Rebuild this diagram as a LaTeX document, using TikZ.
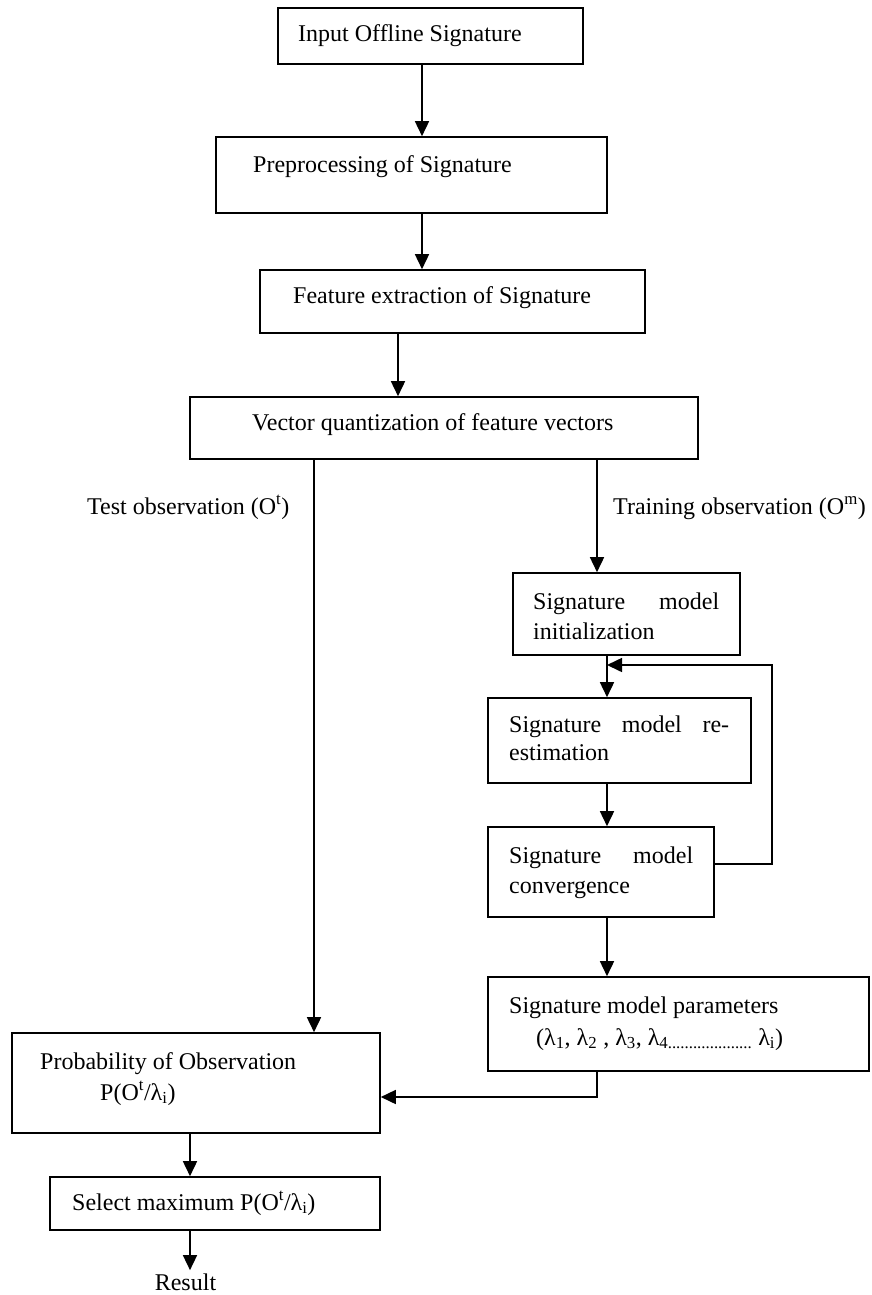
\documentclass[tikz,border=0pt]{standalone}
\usepackage{fontspec}
\setmainfont{Liberation Serif}
\usetikzlibrary{arrows.meta,fit}
\begin{document}
\begin{tikzpicture}[x=1pt,y=-1pt,
  box/.style={draw, line width=1.6pt, inner sep=0pt},
  lbl/.style={anchor=base west, inner sep=0pt, font=\fontsize{24}{29}\selectfont},
  arr/.style={line width=1.6pt, -{Triangle[width=14pt,length=15pt]}},
  conn/.style={line width=1.6pt}]
\useasboundingbox (0,0) rectangle (871,1295);
% boxes
\node[box, fit={(278,8)(583,64)}] (b1) {};
\node[box, fit={(216,137)(607,213)}] (b2) {};
\node[box, fit={(260,270)(645,333)}] (b3) {};
\node[box, fit={(190,397)(698,459)}] (b4) {};
\node[box, fit={(513,573)(740,655)}] (init) {};
\node[box, fit={(488,698)(751,783)}] (reest) {};
\node[box, fit={(488,827)(714,917)}] (conv) {};
\node[box, fit={(488,977)(869,1071)}] (par) {};
\node[box, fit={(12,1033)(380,1133)}] (prob) {};
\node[box, fit={(50,1177)(380,1230)}] (sel) {};
% texts
\node[lbl] (t1) at (298,42) {Input Offline Signature};
\node[lbl] (t2) at (253,172) {Preprocessing of Signature};
\node[lbl] (t3) at (293,303) {Feature extraction of Signature};
\node[lbl] (t4) at (252,430) {Vector quantization of feature vectors};
\node[lbl] (test) at (87,514) {Test observation (O\textsuperscript{t})};
\node[lbl] (train) at (613,514) {Training observation (O\textsuperscript{m})};
\node[lbl] (i1) at (533,609) {\makebox[186pt][s]{Signature model}};
\node[lbl] (i2) at (533,639) {initialization};
\node[lbl] (r1) at (509,732) {\makebox[220pt][s]{Signature model re-}};
\node[lbl] (r2) at (509,760) {estimation};
\node[lbl] (c1) at (509,863) {\makebox[184pt][s]{Signature model}};
\node[lbl] (c2) at (509,893) {convergence};
\node[lbl] (p1) at (509,1013) {Signature model parameters};
\node[lbl] (p2) at (536,1045) {(λ\textsubscript{1}, λ\textsubscript{2} , λ\textsubscript{3}, λ\textsubscript{4....................} λ\textsubscript{i})};
\node[lbl] (o1) at (40,1069) {Probability of Observation};
\node[lbl] (o2) at (100,1100) {P(O\textsuperscript{t}/λ\textsubscript{i})};
\node[lbl] (s1) at (72,1210) {Select maximum P(O\textsuperscript{t}/λ\textsubscript{i})};
\node[lbl, anchor=base, inner sep=3pt] (res) at (185.5,1290) {Result};
% helper coordinates
\coordinate (xA) at (422,0);
\coordinate (xB) at (398,0);
\coordinate (xT) at (314,0);
\coordinate (xM) at (597,0);
\coordinate (xR) at (607,0);
\coordinate (xL) at (772,0);
\coordinate (xS) at (190,0);
\coordinate (yL) at (0,864);
\coordinate (jn) at (607,665);
\coordinate (yP) at (0,1097);
% connectors
\draw[arr] (b1.south -| xA) -- (b2.north -| xA);
\draw[arr] (b2.south -| xA) -- (b3.north -| xA);
\draw[arr] (b3.south -| xB) -- (b4.north -| xB);
\draw[arr] (b4.south -| xT) -- (prob.north -| xT);
\draw[arr] (b4.south -| xM) -- (init.north -| xM);
\draw[arr] (init.south -| xR) -- (reest.north -| xR);
\draw[arr] (reest.south -| xR) -- (conv.north -| xR);
\draw[arr] (conv.south -| xR) -- (par.north -| xR);
\draw[arr] (conv.east |- yL) -- (xL |- yL) -- (xL |- jn) -- (jn);
\draw[arr] (par.south -| xM) -- (xM |- yP) -- (prob.east |- yP);
\draw[arr] (prob.south -| xS) -- (sel.north -| xS);
\draw[arr] (sel.south -| xS) -- (res.north -| xS);
\end{tikzpicture}
\end{document}
